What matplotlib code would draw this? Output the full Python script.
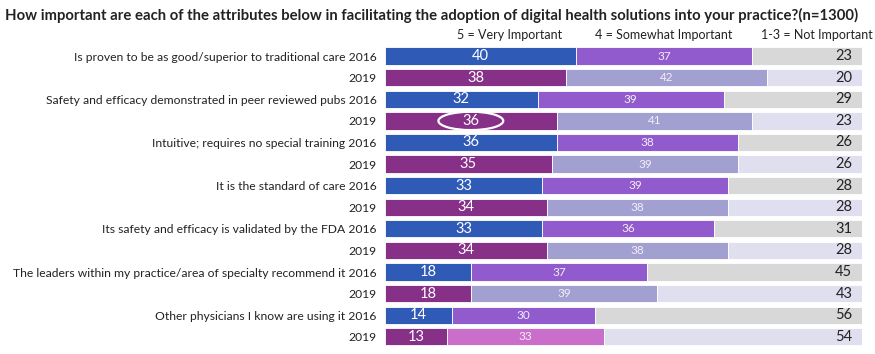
import matplotlib.pyplot as plt
from matplotlib.patches import Ellipse

plt.rcParams['font.family'] = ['Lato', 'DejaVu Sans']

row_labels = [
    'Is proven to be as good/superior to traditional care 2016', '2019',
    'Safety and efficacy demonstrated in peer reviewed pubs 2016', '2019',
    'Intuitive; requires no special training 2016', '2019',
    'It is the standard of care 2016', '2019',
    'Its safety and efficacy is validated by the FDA 2016', '2019',
    'The leaders within my practice/area of specialty recommend it 2016', '2019',
    'Other physicians I know are using it 2016', '2019',
]
very_important = [40, 38, 32, 36, 36, 35, 33, 34, 33, 34, 18, 18, 14, 13]
somewhat_important = [37, 42, 39, 41, 38, 39, 39, 38, 36, 38, 37, 39, 30, 33]
not_important = [23, 20, 29, 23, 26, 26, 28, 28, 31, 28, 45, 43, 56, 54]
legend_labels = ['5 = Very Important', '4 = Somewhat Important', '1-3 = Not Important']

colors_2016 = ['#2F5BB7', '#915BCD', '#D8D8D8']
colors_2019 = ['#873088', '#A29FD1', '#E0DFF0']
last_mid = '#CA6ECC'

fig = plt.figure(figsize=(8.75, 3.54), dpi=100)
ax = fig.add_axes([0.44, 0.018, 0.545, 0.854])

n = len(row_labels)
ys = list(range(n))
for i in ys:
    cols = colors_2016 if i % 2 == 0 else colors_2019
    mid = last_mid if i == n - 1 else cols[1]
    v, s, r = very_important[i], somewhat_important[i], not_important[i]
    ax.barh(i, v, left=0, height=0.8, color=cols[0], edgecolor='white', linewidth=0.6)
    ax.barh(i, s, left=v, height=0.8, color=mid, edgecolor='white', linewidth=0.6)
    ax.barh(i, r, left=v + s, height=0.8, color=cols[2], edgecolor='white', linewidth=0.6)
    ax.text(v / 2, i, str(v), ha='center', va='center', color='white', fontsize=10.5)
    ax.text(v + s / 2, i, str(s), ha='center', va='center', color='#F4EEF8', fontsize=8.5)
    ax.text(98, i, str(r), ha='right', va='center', color='#222222', fontsize=10.5)

# circled value in the 2019 peer reviewed row
ax.add_patch(Ellipse((very_important[3] / 2, 3), 13.6, 0.85, fill=False,
                     edgecolor='white', linewidth=1.6))

ax.set_xlim(0, 100)
ax.set_ylim(n - 0.5, -0.5)
ax.set_yticks(ys)
ax.set_yticklabels(row_labels, fontsize=8.7, color='#222222')
ax.tick_params(axis='y', length=0, pad=6)
ax.set_xticks([])
for sp in ax.spines.values():
    sp.set_visible(False)

for x, lab in zip([510, 664, 817], legend_labels):
    fig.text(x / 875, 1 - 35 / 354, lab, ha='center', va='center', fontsize=9, color='#222222')

fig.text(5 / 875, 1 - 15 / 354,
         'How important are each of the attributes below in facilitating the adoption of digital health solutions into your practice?(n=1300)',
         ha='left', va='center', fontsize=10.7, fontweight='bold', color='#222222')

fig.savefig('out.png', dpi=100)
